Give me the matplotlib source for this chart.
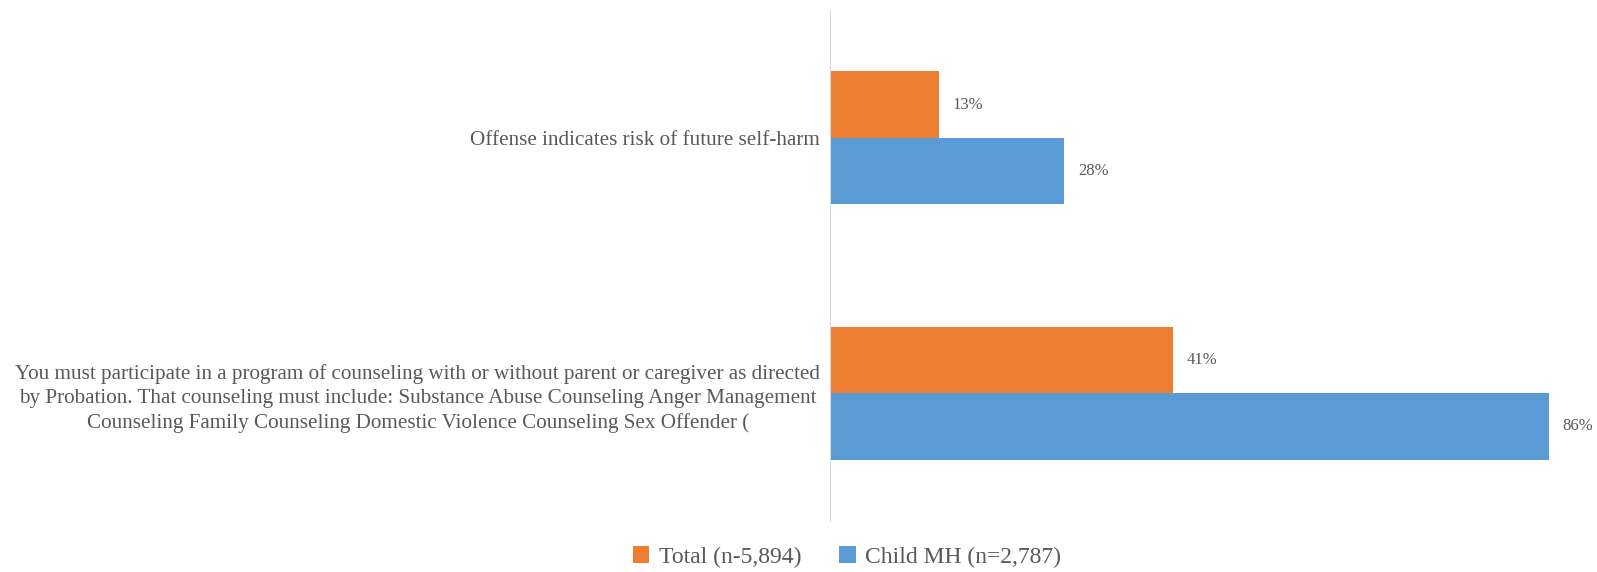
import matplotlib
matplotlib.use("Agg")
import matplotlib.pyplot as plt
import numpy as np

## DATA ##
CATEGORIES = [
	"Offense indicates risk of future self-harm",
	"You must participate in a program of counseling with or without parent or caregiver as directed\n"
	"by Probation. That counseling must include: Substance Abuse Counseling Anger Management\n"
	"Counseling Family Counseling Domestic Violence Counseling Sex Offender (",
]
SERIES_NAMES = ["Total (n-5,894)", "Child MH (n=2,787)"]
TOTAL_VALUES = [13, 41]
CHILD_MH_VALUES = [28, 86]

COLORS = ["#ED7D31", "#5B9BD5"]
TEXT_COLOR = "#595959"

plt.rcParams["font.family"] = ["Liberation Serif", "DejaVu Serif"]

fig = plt.figure(figsize = (15.97, 5.72), dpi = 100)
ax = fig.add_axes([830 / 1597, 51 / 572, (1582 - 830) / 1597, 511 / 572])

y = np.arange(len(CATEGORIES))
bar_h = 0.26

series = [TOTAL_VALUES, CHILD_MH_VALUES]
offsets = [-bar_h / 2, bar_h / 2]
for vals, off, color, name in zip(series, offsets, COLORS, SERIES_NAMES):
	bars = ax.barh(y + off, vals, height = bar_h, color = color, label = name)
	for rect, v in zip(bars, vals):
		ax.annotate(
			f"{v}%",
			xy = (rect.get_width(), rect.get_y() + rect.get_height() / 2),
			xytext = (10, 0), textcoords = "offset points",
			ha = "left", va = "center",
			fontsize = 12, color = TEXT_COLOR
		)

ax.set_xlim(0, 90)
ax.set_ylim(1.5, -0.5)
ax.set_yticks(y)
ax.set_yticklabels(CATEGORIES, fontsize = 15.2, color = TEXT_COLOR)
for lbl in ax.get_yticklabels():
	lbl.set_multialignment("center")
	lbl.set_linespacing(1.35)
ax.tick_params(axis = "y", length = 0, pad = 7)
ax.set_xticks([])

for side in ["top", "right", "bottom"]:
	ax.spines[side].set_visible(False)
ax.spines["left"].set_color("#D9D9D9")

fig.legend(
	loc = "center",
	bbox_to_anchor = (847 / 1597, 15 / 572),
	ncol = 2,
	frameon = False,
	fontsize = 17,
	labelcolor = TEXT_COLOR,
	handlelength = 0.7,
	handleheight = 0.7,
	handletextpad = 0.4,
	columnspacing = 1.6
)

fig.savefig("out.png", dpi = 100)
